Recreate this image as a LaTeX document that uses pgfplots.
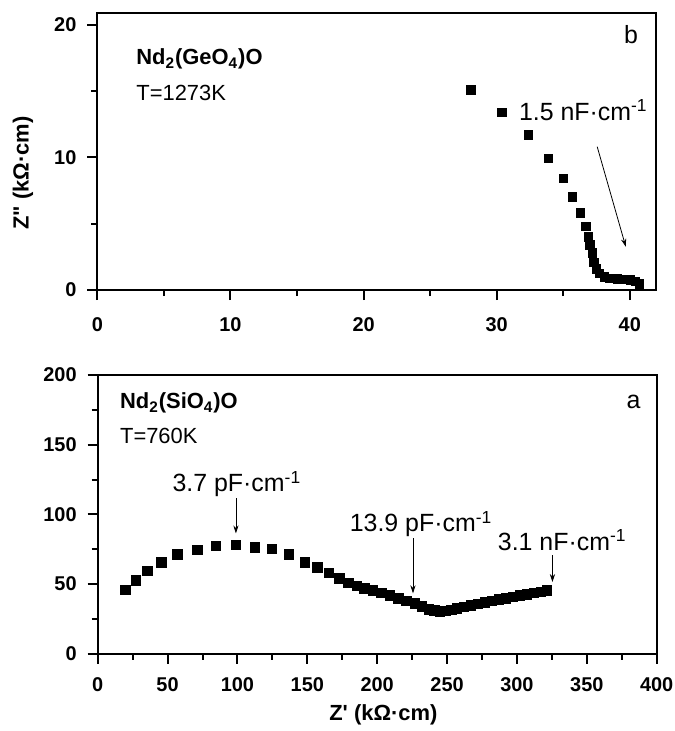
\documentclass[border=0pt]{standalone}
\usepackage{fontspec}
\setmainfont{Liberation Sans}
\usepackage{pgfplots}
\pgfplotsset{compat=1.18}
\usetikzlibrary{arrows.meta}

\pgfplotstableread{
x y
28.07 15.07
30.4 13.4
32.4 11.7
33.9 9.9
35.0 8.4
35.7 7.0
36.3 5.8
36.7 4.8
36.9 4.0
37.0 3.4
37.2 2.8
37.3 2.1
37.5 1.6
37.7 1.26
38.1 1.0
38.5 0.88
39.05 0.83
39.5 0.8
40.05 0.75
40.4 0.63
40.7 0.45
}\geo

\pgfplotstableread{
x y
19.8 45.8
27.2 52.7
35.6 59.4
45.7 65.5
57.0 71.0
71.3 74.4
84.5 77.3
98.8 78.1
112.6 76.3
124.7 75.2
136.8 71.2
148.4 65.6
157.0 61.9
165.5 57.8
172.8 54.0
179.5 50.8
185.5 48.5
191 46.8
197 45.2
203 43.4
209 41.6
215 39.8
221 37.9
227 35.8
232 33.7
237 31.8
241 30.8
245 30.4
249 30.6
253 31.4
257 32.4
262 33.5
267 34.6
272 35.6
277 36.8
282 37.8
287 38.8
292 39.8
297 40.8
302 41.7
307 42.6
312 43.5
317 44.4
321.5 45.3
}\sil

\pgfplotsset{panel/.style={
  scale only axis, width=279.5bp,
  axis line style={line width=1bp},
  every tick/.style={line width=1bp, black},
  tick align=outside, tick pos=left,
  major tick length=5bp, minor tick length=3bp,
  minor tick num=1,
  ticklabel style={font=\fontsize{10}{12}\selectfont\bfseries},
  yticklabel style={xshift=-2bp},
  /pgf/number format/assume math mode=true,
  clip=false,
}}

\newcommand{\ann}{\fontsize{12.5}{14}\selectfont}
\newcommand{\cmp}{\fontsize{11}{13}\selectfont}

\begin{document}
\begin{tikzpicture}
\useasboundingbox (0,0) rectangle (337.5bp,-365.5bp);

% top panel (b)
\begin{axis}[panel,
  at={(48.7bp,-145bp)}, anchor=south west,
  height=138.7bp,
  xmin=0, xmax=42, ymin=0, ymax=20.9,
  xtick={0,10,20,30,40}, ytick={0,10,20},
  xticklabel style={yshift=-5.5bp},
  ylabel={Z\textquotedbl{} (k\symbol{"03A9}\symbol{"00B7}cm)},
  ylabel style={font=\fontsize{11}{13}\selectfont\bfseries,
    at={(axis description cs:-0.1333,0.422)}, anchor=center},
]
\addplot[only marks, mark=square*, mark size=2.1bp, black] table {\geo};
\node[anchor=base west, font=\cmp\bfseries] at (axis cs:2.4,16.96) {Nd\textsubscript{2}(GeO\textsubscript{4})O};
\node[anchor=base west, font=\cmp] at (axis cs:2.4,14.3) {T=1273K};
\node[anchor=base, font=\fontsize{12.5}{14}\selectfont] at (axis cs:40.1,18.6) {b};
\node[anchor=base west, font=\ann, inner sep=0pt] at (axis cs:31.65,12.76) {1.5 nF\symbol{"00B7}cm\textsuperscript{-1}};
\draw[line width=0.4bp, -{Stealth[length=4bp,width=2.6bp]}] (axis cs:37.55,10.8) -- (axis cs:39.7,3.26);
\end{axis}

% bottom panel (a)
\begin{axis}[panel,
  at={(48.85bp,-326.75bp)}, anchor=south west,
  height=139.2bp,
  xmin=0, xmax=400, ymin=0, ymax=200,
  xtick={0,50,...,400}, ytick={0,50,...,200},
  xticklabel style={yshift=-3.5bp},
  xlabel={Z\textquotesingle{} (k\symbol{"03A9}\symbol{"00B7}cm)},
  xlabel style={font=\fontsize{11}{13}\selectfont\bfseries,
    at={(axis description cs:0.511,-0.222)}, anchor=center},
]
\addplot[only marks, mark=square*, mark size=2.4bp, black] table {\sil};
\node[anchor=base west, font=\cmp\bfseries] at (axis cs:11,175.8) {Nd\textsubscript{2}(SiO\textsubscript{4})O};
\node[anchor=base west, font=\cmp] at (axis cs:11,151) {T=760K};
\node[anchor=base, font=\fontsize{12.5}{14}\selectfont] at (axis cs:383.5,176.3) {a};
\node[anchor=base, font=\ann, inner sep=0pt] at (axis cs:99.6,116.2) {3.7 pF\symbol{"00B7}cm\textsuperscript{-1}};
\node[anchor=base, font=\ann, inner sep=0pt] at (axis cs:231.4,87.5) {13.9 pF\symbol{"00B7}cm\textsuperscript{-1}};
\node[anchor=base, font=\ann, inner sep=0pt] at (axis cs:332.4,74.3) {3.1 nF\symbol{"00B7}cm\textsuperscript{-1}};
\draw[line width=0.4bp, -{Stealth[length=4bp,width=2.6bp]}] (axis cs:98.9,111.5) -- (axis cs:98.9,86.3);
\draw[line width=0.4bp, -{Stealth[length=4bp,width=2.6bp]}] (axis cs:225.6,82.7) -- (axis cs:225.6,43.2);
\draw[line width=0.4bp, -{Stealth[length=4bp,width=2.6bp]}] (axis cs:325.4,70.5) -- (axis cs:325.4,51.3);
\end{axis}
\end{tikzpicture}
\end{document}
